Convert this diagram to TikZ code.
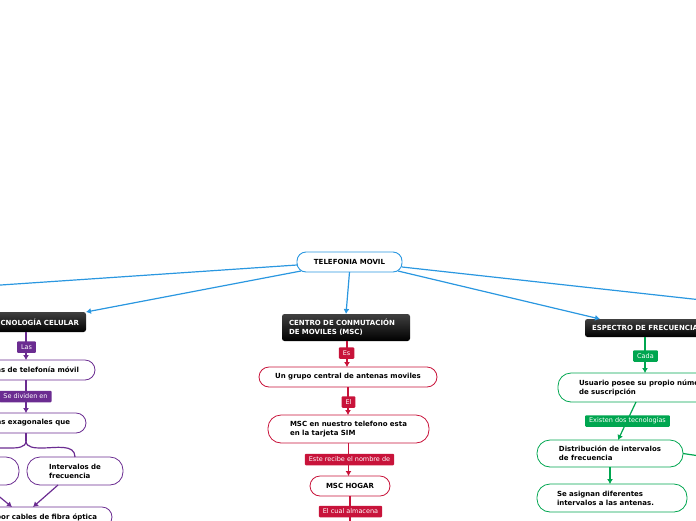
\documentclass[tikz,border=0pt]{standalone}
\usepackage{fontspec}
\setmainfont{DejaVu Sans}
\usetikzlibrary{arrows.meta,calc}
\definecolor{cblue}{HTML}{2A97E0}
\definecolor{cpurple}{HTML}{6B2C91}
\definecolor{cred}{HTML}{C8133A}
\definecolor{cgreen}{HTML}{00A650}
\begin{document}
\begin{tikzpicture}[x=1pt,y=-1pt,
 every node/.style={font=\fontsize{7}{9}\selectfont\bfseries, inner ysep=0pt, outer sep=0pt},
 rootbox/.style={draw=cblue, line width=0.9pt, fill=white, rounded corners=9pt, minimum height=20, inner xsep=0pt},
 darkbox/.style={top color=black!75, bottom color=black, text=white, rounded corners=2.5pt, minimum height=#1, align=left, inner xsep=7pt},
 pill/.style={draw=#1, line width=0.8pt, fill=white, align=left},
 lab/.style={fill=#1, text=white, font=\fontsize{6.5}{7}\selectfont, rounded corners=1pt, inner xsep=4pt, minimum height=11.5},
 conn/.style={draw=#1, line width=1.2pt},
 arr/.style={conn=#1, -{Latex[length=5pt,width=6pt]}},
]
\useasboundingbox (0,0) rectangle (696,520);

% root
\node[rootbox, minimum width=105] (root) at (349.5,262) {TELEFONIA MOVIL};

% main topics
\node[darkbox=20, anchor=east] (tec) at (86,322) {TECNOLOGÍA CELULAR};
\node[darkbox=27, anchor=west, text width=114] (msc) at (282,327.5) {CENTRO DE CONMUTACIÓN\\DE MOVILES (MSC)};
\node[darkbox=18, anchor=west] (esp) at (585,328) {ESPECTRO DE FRECUENCIA};

% purple branch
\node[pill=cpurple, anchor=east, minimum height=20, inner xsep=16, rounded corners=10] (sis) at (95,370) {Sistemas de telefonía móvil};
\node[pill=cpurple, anchor=east, minimum height=20, inner xsep=16, rounded corners=10] (cel) at (86,423) {Celdas exagonales que};
\node[pill=cpurple, minimum width=68, minimum height=28, rounded corners=13] (izq) at (-15,471) {};
\node[pill=cpurple, minimum width=96, minimum height=28, rounded corners=13] (int) at (75,471) {Intervalos de\\frecuencia};
\node[pill=cpurple, anchor=east, minimum height=20, inner xsep=15, rounded corners=10] (fib) at (112,517) {Conectadas por cables de fibra óptica};

% red branch
\node[pill=cred, minimum width=178, minimum height=20, rounded corners=10] (grp) at (348,377) {Un grupo central de antenas moviles};
\node[pill=cred, minimum width=161, minimum height=28, rounded corners=13] (sim) at (348.5,429) {MSC en nuestro telefono esta\\en la tarjeta SIM};
\node[pill=cred, minimum width=80, minimum height=20, rounded corners=10] (hog) at (350,486) {MSC HOGAR};

% green branch
\node[pill=cgreen, anchor=west, minimum height=29, inner xsep=21, rounded corners=13] (usu) at (558,387.5) {Usuario posee su propio número\\de suscripción};
\node[pill=cgreen, minimum width=146, minimum height=27, rounded corners=13] (dis) at (610,453.5) {Distribución de intervalos\\de frecuencia};
\node[pill=cgreen, minimum width=150, minimum height=28, rounded corners=13, text width=110, inner xsep=0pt] (asi) at (612,498) {Se asignan diferentes\\intervalos a las antenas.};

% helper coordinates
\coordinate (offL) at (-20,286.4);
\coordinate (offR) at (720,302);
\coordinate (offB) at (350,530);
\coordinate (offG) at (720,459);
\coordinate (colP) at (26,0);
\coordinate (colR) at (347,0);
\coordinate (colG) at (645,0);
\coordinate (g1) at (636,0);
\coordinate (g2) at (618,0);

% blue connectors
\draw[conn=cblue] ($(root.west)+(0,3)$) -- (offL);
\draw[arr=cblue] ($(root.south west)+(4,-1)$) -- (tec.north east);
\draw[arr=cblue] (root.south) -- (msc.north);
\draw[arr=cblue] ($(root.south east)+(-4,-1)$) -- ($(esp.north west)+(15,0)$);
\draw[conn=cblue] ($(root.east)+(0,5)$) -- (offR);

% purple connectors
\draw[arr=cpurple] (colP |- tec.south) -- (colP |- sis.north);
\draw[arr=cpurple] (colP |- sis.south) -- (colP |- cel.north);
\draw[conn=cpurple] (colP |- cel.south) -- ++(0,8) coordinate (br);
\draw[conn=cpurple] (br) to[out=-90,in=180] (42,448) to[out=0,in=90] (int.north);
\draw[conn=cpurple] (br) to[out=-90,in=0] (10,448) to[out=180,in=90] (izq.north);
\draw[arr=cpurple] (izq.south) -- ($(fib.north east)+(-100,0)$);
\draw[arr=cpurple] ($(int.south)+(-17,0)$) -- ($(fib.north east)+(-79,0)$);

% red connectors
\draw[arr=cred] (colR |- msc.south) -- (colR |- grp.north);
\draw[arr=cred] (grp.south) -- (grp.south |- sim.north);
\draw[arr=cred] (sim.south) -- (sim.south |- hog.north);
\draw[conn=cred] (hog.south) -- (hog.south |- offB);

% green connectors
\draw[arr=cgreen] (colG |- esp.south) -- (colG |- usu.north);
\draw[arr=cgreen] (g1 |- usu.south) -- (g2 |- dis.north);
\draw[arr=cgreen] (dis.south) -- (dis.south |- asi.north);
\draw[conn=cgreen] (dis.east) -- (offG);

% connector labels
\node[lab=cpurple] (l1) at (26.5,347) {Las};
\node[lab=cpurple] (l2) at (25.5,396.5) {Se dividen en};
\node[lab=cred] (l3) at (346.5,353) {Es};
\node[lab=cred] (l4) at (348.5,402) {El};
\node[lab=cred] (l5) at (349.5,459.5) {Este recibe el nombre de};
\node[lab=cred] (l6) at (350.5,511.5) {El cual almacena};
\node[lab=cgreen] (l7) at (645.5,356) {Cada};
\node[lab=cgreen] (l8) at (627.5,421) {Existen dos tecnologías};
\end{tikzpicture}
\end{document}
